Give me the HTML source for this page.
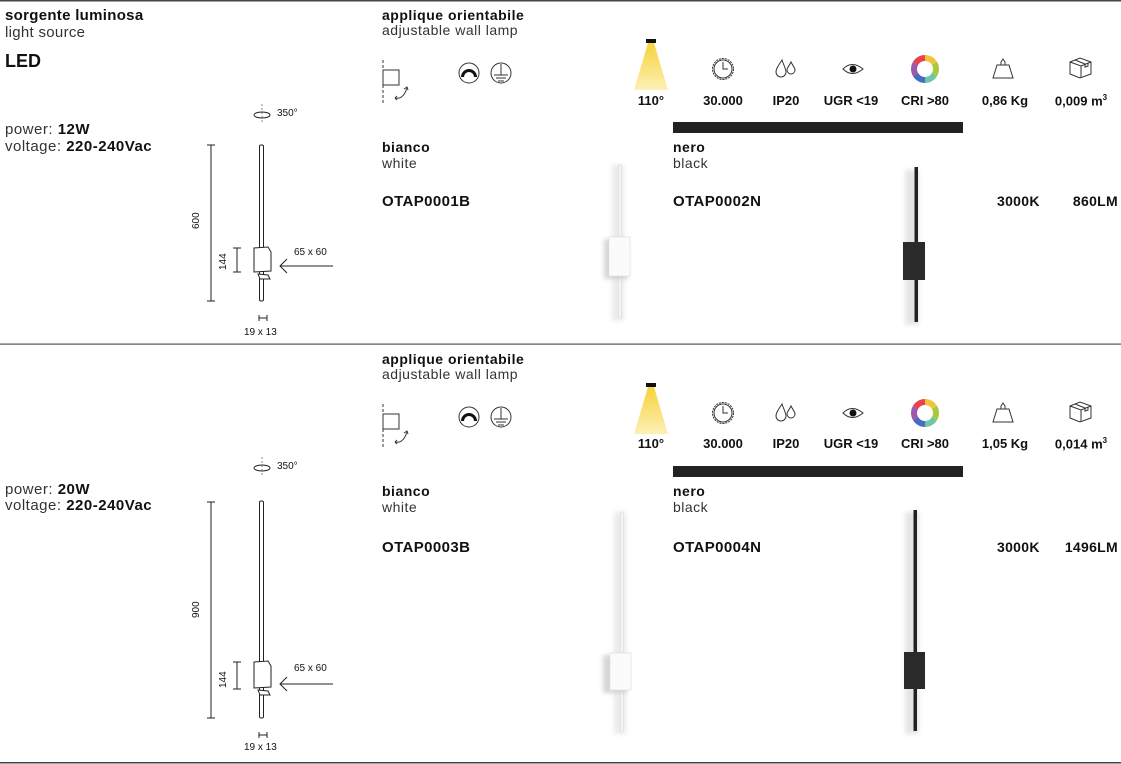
<!DOCTYPE html>
<html><head><meta charset="utf-8"><style>
*{margin:0;padding:0}
body{width:1121px;height:764px;background:#fff;position:relative;overflow:hidden;font-family:"Liberation Sans",sans-serif;color:#111}
.t{position:absolute;white-space:nowrap;font-size:13px;line-height:1}
.w{font-size:14px;letter-spacing:.5px}
.b{font-weight:bold}
.m{font-weight:600}
.l{color:#333}
.c{transform:translateX(-50%)}
</style></head><body>
<svg width="1121" height="764" style="position:absolute;left:0;top:0">
<defs>
<linearGradient id="beam" x1="0" y1="0" x2="0" y2="1"><stop offset="0" stop-color="#f7d23a"/><stop offset="1" stop-color="#fdf0b8"/></linearGradient>
<filter id="sh" x="-1" y="-0.2" width="3" height="1.4"><feGaussianBlur stdDeviation="2"/></filter>
</defs>
<rect x="0" y="0" width="1121" height="1.5" fill="#444"/>
<rect x="0" y="343.5" width="1121" height="1.2" fill="#555"/>
<rect x="0" y="762" width="1121" height="1.5" fill="#444"/>
<g id="s1">
<rect x="673" y="122" width="290" height="11" fill="#222"/>
<g stroke="#333" fill="none" stroke-width="1">
<line x1="383" y1="60" x2="383" y2="105" stroke-dasharray="3,2"/>
<rect x="383" y="70" width="16" height="15"/>
<path d="M395 98 q8 2 12 -10"/><path d="M404 89 l3 -2 l1 3"/><path d="M395 98 l2 -2 M395 98 l2 2"/>
<circle cx="469" cy="73" r="10"/><circle cx="501" cy="73" r="10"/>
<line x1="501" y1="64" x2="501" y2="75"/><line x1="494" y1="75" x2="508" y2="75"/><line x1="496" y1="78" x2="506" y2="78"/><line x1="498" y1="81" x2="504" y2="81"/>
</g>
<path d="M461 77 a8 8 0 1 1 16 0 l-3 0 a5 5 0 1 0 -10 0z" fill="#111"/>
<rect x="646" y="39" width="10" height="4" fill="#111"/>
<polygon points="648,43 654,43 668,90 634,90" fill="url(#beam)"/>
<g stroke="#333" fill="none" stroke-width="1">
<circle cx="723" cy="69" r="10.5" stroke-dasharray="2,1"/><circle cx="723" cy="69" r="9"/><path d="M723 62 v7 h5"/>
<path d="M782 60 c-4 6 -6 9 -6 12 a5 5 0 0 0 10 0 c0 -3 -2 -6 -4 -12z"/><path d="M791 62 c-2 4 -4 6 -4 8 a4 4 0 0 0 8 0 c0 -2 -2 -4 -4 -8z"/>
<path d="M843 69 q9 -9 20 0 q-11 9 -20 0z"/>
<path d="M997 65 h12 l4 13 h-20z"/><path d="M1001 65 v-3 l2 -3 l2 3 v3"/>
<path d="M1070 62 l10 -4 l11 4 v12 l-11 4 l-10 -4z M1070 62 l11 4 l10 -4 M1081 66 v12 M1075 60 l10 4 v3 l3 -1 v-3"/>
</g>
<circle cx="853" cy="69" r="3.5" fill="#111"/>
<g fill="none" stroke-width="6">
<path d="M925 58 a11 11 0 0 1 9.5 5.5" stroke="#f2c23b"/>
<path d="M934.5 63.5 a11 11 0 0 1 0 11" stroke="#a8c83e"/>
<path d="M934.5 74.5 a11 11 0 0 1 -9.5 5.5" stroke="#6cc6a8"/>
<path d="M925 80 a11 11 0 0 1 -9.5 -5.5" stroke="#4a6cc0"/>
<path d="M915.5 74.5 a11 11 0 0 1 0 -11" stroke="#9b59a8"/>
<path d="M915.5 63.5 a11 11 0 0 1 9.5 -5.5" stroke="#e8424e"/>
</g>
<g stroke="#222" fill="none" stroke-width="1">
<line x1="262" y1="104" x2="262" y2="124" stroke-dasharray="2,2" stroke="#888"/>
<ellipse cx="262" cy="115" rx="8" ry="3"/>
<line x1="207" y1="145" x2="215" y2="145"/><line x1="211" y1="145" x2="211" y2="301"/><line x1="207" y1="301" x2="215" y2="301"/>
<line x1="233" y1="248" x2="241" y2="248"/><line x1="237" y1="248" x2="237" y2="272"/><line x1="233" y1="272" x2="241" y2="272"/>
<rect x="259.5" y="145" width="4" height="156" rx="1.5"/>
<path d="M254 248 l14 -1 l3 5 v19 l-17 1z" fill="#fff"/>
<path d="M258 274 l10 1 l2 4 l-10 0z" fill="#fff"/>
<line x1="280" y1="266" x2="333" y2="266"/><path d="M287 259 l-7 7 l7 7"/>
<line x1="259" y1="318" x2="267" y2="318"/><line x1="259" y1="315" x2="259" y2="321"/><line x1="267" y1="315" x2="267" y2="321"/>
</g>
<rect x="612" y="165" width="12" height="156" fill="#ddd" filter="url(#sh)" opacity=".6"/>
<rect x="618.5" y="165" width="3" height="153" fill="#f4f4f4" stroke="#ddd" stroke-width=".6"/>
<rect x="604" y="239" width="24" height="40" fill="#ccc" filter="url(#sh)" opacity=".8"/>
<rect x="609" y="237" width="21" height="39" fill="#fbfbfb" stroke="#ddd" stroke-width=".6"/>
<rect x="905" y="170" width="14" height="155" fill="#ccc" filter="url(#sh)" opacity=".5"/>
<rect x="914.5" y="167" width="3.5" height="155" fill="#222"/>
<rect x="903" y="242" width="22" height="38" fill="#2a2a2a"/>
</g>
<g transform="translate(0,344)">
<rect x="673" y="122" width="290" height="11" fill="#222"/>
<g stroke="#333" fill="none" stroke-width="1">
<line x1="383" y1="60" x2="383" y2="105" stroke-dasharray="3,2"/>
<rect x="383" y="70" width="16" height="15"/>
<path d="M395 98 q8 2 12 -10"/><path d="M404 89 l3 -2 l1 3"/><path d="M395 98 l2 -2 M395 98 l2 2"/>
<circle cx="469" cy="73" r="10"/><circle cx="501" cy="73" r="10"/>
<line x1="501" y1="64" x2="501" y2="75"/><line x1="494" y1="75" x2="508" y2="75"/><line x1="496" y1="78" x2="506" y2="78"/><line x1="498" y1="81" x2="504" y2="81"/>
</g>
<path d="M461 77 a8 8 0 1 1 16 0 l-3 0 a5 5 0 1 0 -10 0z" fill="#111"/>
<rect x="646" y="39" width="10" height="4" fill="#111"/>
<polygon points="648,43 654,43 668,90 634,90" fill="url(#beam)"/>
<g stroke="#333" fill="none" stroke-width="1">
<circle cx="723" cy="69" r="10.5" stroke-dasharray="2,1"/><circle cx="723" cy="69" r="9"/><path d="M723 62 v7 h5"/>
<path d="M782 60 c-4 6 -6 9 -6 12 a5 5 0 0 0 10 0 c0 -3 -2 -6 -4 -12z"/><path d="M791 62 c-2 4 -4 6 -4 8 a4 4 0 0 0 8 0 c0 -2 -2 -4 -4 -8z"/>
<path d="M843 69 q9 -9 20 0 q-11 9 -20 0z"/>
<path d="M997 65 h12 l4 13 h-20z"/><path d="M1001 65 v-3 l2 -3 l2 3 v3"/>
<path d="M1070 62 l10 -4 l11 4 v12 l-11 4 l-10 -4z M1070 62 l11 4 l10 -4 M1081 66 v12 M1075 60 l10 4 v3 l3 -1 v-3"/>
</g>
<circle cx="853" cy="69" r="3.5" fill="#111"/>
<g fill="none" stroke-width="6">
<path d="M925 58 a11 11 0 0 1 9.5 5.5" stroke="#f2c23b"/>
<path d="M934.5 63.5 a11 11 0 0 1 0 11" stroke="#a8c83e"/>
<path d="M934.5 74.5 a11 11 0 0 1 -9.5 5.5" stroke="#6cc6a8"/>
<path d="M925 80 a11 11 0 0 1 -9.5 -5.5" stroke="#4a6cc0"/>
<path d="M915.5 74.5 a11 11 0 0 1 0 -11" stroke="#9b59a8"/>
<path d="M915.5 63.5 a11 11 0 0 1 9.5 -5.5" stroke="#e8424e"/>
</g>
</g>
<g stroke="#222" fill="none" stroke-width="1">
<line x1="262" y1="457" x2="262" y2="477" stroke-dasharray="2,2" stroke="#888"/>
<ellipse cx="262" cy="468" rx="8" ry="3"/>
<line x1="207" y1="502" x2="215" y2="502"/><line x1="211" y1="502" x2="211" y2="718"/><line x1="207" y1="718" x2="215" y2="718"/>
<line x1="233" y1="662" x2="241" y2="662"/><line x1="237" y1="662" x2="237" y2="689"/><line x1="233" y1="689" x2="241" y2="689"/>
<rect x="259.5" y="501" width="4" height="217" rx="1.5"/>
<path d="M254 662 l14 -1 l3 5 v21 l-17 1z" fill="#fff"/>
<path d="M258 690 l10 1 l2 4 l-10 0z" fill="#fff"/>
<line x1="280" y1="684" x2="333" y2="684"/><path d="M287 677 l-7 7 l7 7"/>
<line x1="259" y1="735" x2="267" y2="735"/><line x1="259" y1="732" x2="259" y2="738"/><line x1="267" y1="732" x2="267" y2="738"/>
</g>
<rect x="614" y="512" width="12" height="222" fill="#ddd" filter="url(#sh)" opacity=".6"/>
<rect x="620.5" y="512" width="3" height="219" fill="#f4f4f4" stroke="#ddd" stroke-width=".6"/>
<rect x="603" y="655" width="24" height="38" fill="#ccc" filter="url(#sh)" opacity=".8"/>
<rect x="610" y="653" width="21" height="37" fill="#fbfbfb" stroke="#ddd" stroke-width=".6"/>
<rect x="905" y="512" width="14" height="222" fill="#ccc" filter="url(#sh)" opacity=".5"/>
<rect x="913.5" y="510" width="3.5" height="221" fill="#222"/>
<rect x="904" y="652" width="21" height="37" fill="#2a2a2a"/>
</svg>

<div class="t m" style="left:5px;top:8px;font-size:15px;letter-spacing:.3px">sorgente luminosa</div>
<div class="t l" style="left:5px;top:25px;font-size:15px;letter-spacing:.3px">light source</div>
<div class="t b" style="left:5px;top:52px;font-size:18px">LED</div>
<div class="t l" style="left:5px;top:122px;font-size:15px;letter-spacing:.5px">power: <span class="m" style="color:#111">12W</span></div>
<div class="t l" style="left:5px;top:139px;font-size:15px;letter-spacing:.5px">voltage: <span class="m" style="color:#111">220-240Vac</span></div>
<div class="t l" style="left:5px;top:482px;font-size:15px;letter-spacing:.5px">power: <span class="m" style="color:#111">20W</span></div>
<div class="t l" style="left:5px;top:498px;font-size:15px;letter-spacing:.5px">voltage: <span class="m" style="color:#111">220-240Vac</span></div>

<div class="t" style="left:277px;top:109px;font-size:10px">350°</div>
<div class="t" style="left:294px;top:248px;font-size:10px">65 x 60</div>
<div class="t" style="left:244px;top:328px;font-size:10px">19 x 13</div>
<div class="t" style="left:192px;top:229px;font-size:10px;transform:rotate(-90deg);transform-origin:0 0">600</div>
<div class="t" style="left:219px;top:270px;font-size:10px;transform:rotate(-90deg);transform-origin:0 0">144</div>
<div class="t" style="left:277px;top:462px;font-size:10px">350°</div>
<div class="t" style="left:294px;top:664px;font-size:10px">65 x 60</div>
<div class="t" style="left:244px;top:743px;font-size:10px">19 x 13</div>
<div class="t" style="left:192px;top:618px;font-size:10px;transform:rotate(-90deg);transform-origin:0 0">900</div>
<div class="t" style="left:219px;top:688px;font-size:10px;transform:rotate(-90deg);transform-origin:0 0">144</div>

<div class="t m w" style="left:382px;top:8px">applique orientabile</div>
<div class="t l w" style="left:382px;top:23px">adjustable wall lamp</div>
<div class="t m w" style="left:382px;top:352px">applique orientabile</div>
<div class="t l w" style="left:382px;top:367px">adjustable wall lamp</div>

<div class="t m c" style="left:651px;top:94px">110°</div>
<div class="t m c" style="left:723px;top:94px">30.000</div>
<div class="t m c" style="left:786px;top:94px">IP20</div>
<div class="t m c" style="left:851px;top:94px">UGR &lt;19</div>
<div class="t m c" style="left:925px;top:94px">CRI &gt;80</div>
<div class="t m c" style="left:1005px;top:94px">0,86 Kg</div>
<div class="t m c" style="left:1081px;top:94px">0,009 m<sup style="font-size:8px">3</sup></div>
<div class="t m c" style="left:651px;top:437px">110°</div>
<div class="t m c" style="left:723px;top:437px">30.000</div>
<div class="t m c" style="left:786px;top:437px">IP20</div>
<div class="t m c" style="left:851px;top:437px">UGR &lt;19</div>
<div class="t m c" style="left:925px;top:437px">CRI &gt;80</div>
<div class="t m c" style="left:1005px;top:437px">1,05 Kg</div>
<div class="t m c" style="left:1081px;top:437px">0,014 m<sup style="font-size:8px">3</sup></div>

<div class="t m w" style="left:382px;top:140px">bianco</div>
<div class="t l w" style="left:382px;top:156px">white</div>
<div class="t m w" style="left:673px;top:140px">nero</div>
<div class="t l w" style="left:673px;top:156px">black</div>
<div class="t b" style="left:382px;top:194px;font-size:15px;letter-spacing:.4px">OTAP0001B</div>
<div class="t b" style="left:673px;top:194px;font-size:15px;letter-spacing:.4px">OTAP0002N</div>
<div class="t m" style="left:997px;top:194px;font-size:14px;letter-spacing:.3px">3000K</div>
<div class="t m" style="right:3px;top:194px;font-size:14px;letter-spacing:.3px">860LM</div>

<div class="t m w" style="left:382px;top:484px">bianco</div>
<div class="t l w" style="left:382px;top:500px">white</div>
<div class="t m w" style="left:673px;top:484px">nero</div>
<div class="t l w" style="left:673px;top:500px">black</div>
<div class="t b" style="left:382px;top:540px;font-size:15px;letter-spacing:.4px">OTAP0003B</div>
<div class="t b" style="left:673px;top:540px;font-size:15px;letter-spacing:.4px">OTAP0004N</div>
<div class="t m" style="left:997px;top:540px;font-size:14px;letter-spacing:.3px">3000K</div>
<div class="t m" style="right:3px;top:540px;font-size:14px;letter-spacing:.3px">1496LM</div>
</body></html>
